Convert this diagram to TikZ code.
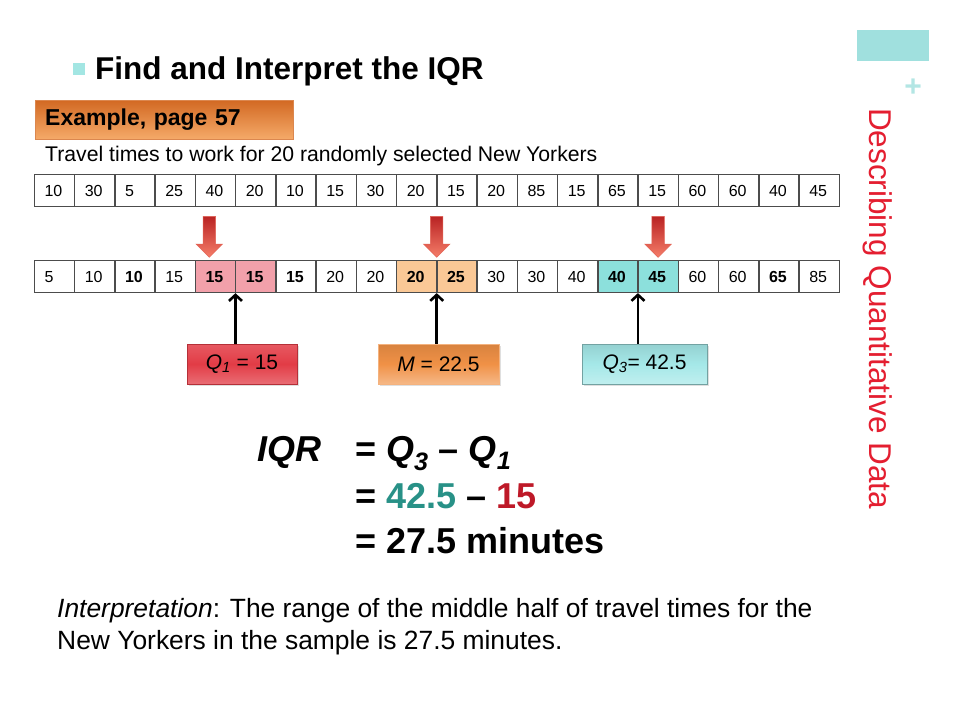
\documentclass[tikz,border=0pt]{standalone}
\usepackage{fontspec}
\setmainfont{Liberation Sans}
\usepackage{tikz}
\usetikzlibrary{matrix, positioning, calc, shapes.arrows, arrows.meta, shadows}
\definecolor{pinkcell}{RGB}{242,160,170}
\definecolor{orangecell}{RGB}{250,200,150}
\definecolor{cyancell}{RGB}{140,224,220}
\definecolor{qred}{RGB}{226,60,70}
\definecolor{morange}{RGB}{240,145,70}
\definecolor{qcyan}{RGB}{165,232,232}
\definecolor{exdark}{RGB}{210,105,35}
\definecolor{exlight}{RGB}{245,170,105}
\definecolor{sidered}{RGB}{228,30,48}
\definecolor{tealtxt}{RGB}{40,145,135}
\definecolor{redtxt}{RGB}{190,25,40}
\definecolor{tabcyan}{RGB}{160,224,222}
\definecolor{dropdark}{RGB}{185,35,35}
\definecolor{droplight}{RGB}{245,125,105}
\tikzset{cell/.style={draw=black!70, line width=0.7pt, minimum height=32pt, text width=19.55pt, inner xsep=10pt, inner ysep=0pt, align=left, font=\fontsize{16}{19}\selectfont},
        bd/.style={font=\fontsize{16}{19}\selectfont\bfseries},
        pk/.style={fill=pinkcell},
        og/.style={fill=orangecell},
        cy/.style={fill=cyancell},
        txt/.style={anchor=base west, inner sep=0pt},
        qlab/.style={minimum height=40pt, inner sep=0pt, font=\fontsize{21}{25}\selectfont, drop shadow={opacity=0.25, shadow xshift=2pt, shadow yshift=-2pt}},
        dropar/.style={single arrow, shape border rotate=270, minimum height=41pt, minimum width=26pt, single arrow head extend=7pt, inner sep=6pt, top color=dropdark, bottom color=droplight, draw=droplight!70!dropdark, line width=0.5pt},
        up/.style={line width=2.6pt, -{Straight Barb[length=6pt, width=13pt]}},
        formula/.style={txt, font=\fontsize{36}{40}\selectfont\bfseries}}

\begin{document}
\begin{tikzpicture}[x=1pt, y=-1pt]
    \path[use as bounding box, fill=white] (0,0) rectangle (960,720);

    % Heading and side bar
    \node[fill=tabcyan, minimum width=72pt, minimum height=31pt, inner sep=0pt] (tab) at (893,45.5) {};
    \node[text=tabcyan!80!white, font=\fontsize{30}{30}\selectfont\bfseries] (plus) at (913,88) {+};
    \node[rotate=-90, txt, text=sidered, font=\fontsize{31.5}{32}\selectfont] (side) at (869,108) {Describing Quantitative Data};
    \node[fill=cyancell!80!white, minimum size=12pt, inner sep=0pt] (bullet) at (79,69) {};
    \node[txt, font=\fontsize{31.5}{36}\selectfont\bfseries] (title) at (95,79) {Find and Interpret the IQR};
    \node[anchor=north west, minimum width=258pt, minimum height=39pt, text width=238pt, inner xsep=10pt, align=left, top color=exdark, bottom color=exlight, draw=exdark!80!white, font=\fontsize{23}{26}\selectfont\bfseries] (example) at (35,100) {Example, page 57};
    \node[txt, font=\fontsize{21.2}{24}\selectfont] (caption) at (45,161) {Travel times to work for 20 randomly selected New Yorkers};

    % Raw and sorted data
    \matrix[matrix of nodes, nodes={cell}, column sep=0pt, inner sep=0pt, anchor=north west] (data) at (34,174) {
      10 & 30 & 5 & 25 & 40 & 20 & 10 & 15 & 30 & 20 & 15 & 20 & 85 & 15 & 65 & 15 & 60 & 60 & 40 & 45 \\
    };
    \matrix[matrix of nodes, nodes={cell}, column sep=0pt, inner sep=0pt, below=53pt of data.south west, anchor=north west] (sorted) {
      5 & 10 & |[bd]| 10 & 15 & |[bd,pk]| 15 & |[bd,pk]| 15 & |[bd]| 15 & 20 & 20 & |[bd,og]| 20 & |[bd,og]| 25 & 30 & 30 & 40 & |[bd,cy]| 40 & |[bd,cy]| 45 & 60 & 60 & |[bd]| 65 & 85 \\
    };

    % Arrows from raw to sorted
    \node[dropar] (drop1) at ($(data-1-5.south)!0.5!(sorted-1-5.north)+(-6,0)$) {};
    \node[dropar] (drop2) at ($(data-1-10.south east)!0.5!(sorted-1-10.north east)$) {};
    \node[dropar] (drop3) at ($(data-1-16.south)!0.5!(sorted-1-16.north)$) {};

    % Quartile labels
    \node[qlab, minimum width=110pt, top color=qred!85!white, bottom color=qred!75!white, middle color=qred, draw=qred!80!black] (qone) at (242,364) {\textit{Q}\textsubscript{\textit{1}} = 15};
    \node[qlab, minimum width=121pt, top color=morange!90!black, bottom color=morange!65!white, middle color=morange, draw=morange!70!white] (med) at (438.5,364) {\textit{M} = 22.5};
    \node[qlab, minimum width=125pt, top color=qcyan!90!black, bottom color=qcyan!70!white, middle color=qcyan, draw=qcyan!70!black] (qthree) at (644.5,364) {\textit{Q}\textsubscript{\textit{3}}= 42.5};
    \draw[up] (qone.north -| sorted-1-5.south east) -- (sorted-1-5.south east);
    \draw[up] (med.north -| sorted-1-10.south east) -- (sorted-1-10.south east);
    \draw[up] (qthree.north -| sorted-1-15.south east) -- (sorted-1-15.south east);

    % IQR
    \node[formula] (iqr) at (257,461) {\textit{IQR}};
    \node[formula] (line1) at (355,461) {= \textit{Q}\textsubscript{\textit{3}} – \textit{Q}\textsubscript{\textit{1}}};
    \node[formula] (line2) at (355,508) {= \textcolor{tealtxt}{42.5} – \textcolor{redtxt}{15}};
    \node[formula] (line3) at (355,553) {= 27.5 minutes};

    \node[txt, font=\fontsize{26.4}{30}\selectfont] (interp1) at (57,617) {\textit{Interpretation}: The range of the middle half of travel times for the};
    \node[txt, font=\fontsize{26.4}{30}\selectfont] (interp2) at (57,649) {New Yorkers in the sample is 27.5 minutes.};
  \end{tikzpicture}
\end{document}
